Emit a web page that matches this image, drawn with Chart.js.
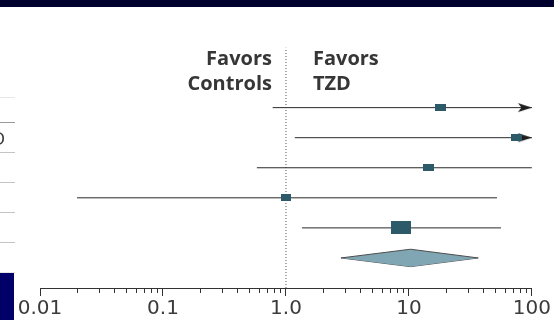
<!DOCTYPE html>
<html lang="en">
<head>
<meta charset="UTF-8">
<title>TZD forest plot</title>
<style>
  body { margin: 0; background: #fff; }
  #wrap { position: relative; width: 554px; height: 320px; overflow: hidden; background: #fff; }
  #chartBox { position: absolute; left: 0; top: 0; width: 554px; height: 320px; }
  .band { position: absolute; left: 0; top: 0; width: 554px; height: 7px; background: #00002e; }
  .block { position: absolute; left: 0; top: 273px; width: 14px; height: 47px; background: #000068; }
  .stub { position: absolute; left: 0; width: 15px; height: 1px; background: #c4c4c4; }
  .cut { position: absolute; left: -8px; top: 126px; font: 18px 'Open Sans', sans-serif; color: #333; }
</style>
</head>
<body>
<div id="wrap">
  <div id="chartBox"><canvas id="forest"></canvas></div>
  <div class="band"></div>
  <div class="stub" style="top:97px;background:#e6e6e6"></div>
  <div class="stub" style="top:122px;background:#9a9a9a"></div>
  <div class="stub" style="top:152px"></div>
  <div class="stub" style="top:182px"></div>
  <div class="stub" style="top:212px"></div>
  <div class="stub" style="top:242px"></div>
  <div class="stub" style="top:272px;background:#e6e6e6"></div>
  <div class="cut">D</div>
  <div class="block"></div>
</div>

<script src="https://cdn.jsdelivr.net/npm/chart.js"></script>
<script>
// odds ratios per study (top to bottom), with 95% CI
const oddsRatio = [18.2, 75, 14.4, 1.0, 8.7];
const ciLow = [0.78, 1.18, 0.58, 0.02, 1.35];
const ciHigh = [400, 1000, 100, 52, 56];
const weights = [12, 12, 12, 9, 40]; // study weight, %

// pooled estimate: [low, estimate, high]
const pooled = [2.8, 10.3, 36.6];

const tickValues = [0.01, 0.1, 1, 10, 100];
const tickLabels = ['0.01', '0.1', '1.0', '10', '100'];

const X_MIN = 0.01, X_MAX = 100;
const nRows = oddsRatio.length;
const rowY = i => nRows + 1 - i;   // study rows, pooled row sits at 1

// small canvases used as point styles
function boxImage(w) {
  const width = Math.round(3.2 * Math.sqrt(w));
  const height = Math.round(width * 0.66);
  const c = document.createElement('canvas');
  c.width = width; c.height = height;
  const g = c.getContext('2d');
  g.fillStyle = '#2c5a68';
  g.fillRect(0, 0, width, height);
  return c;
}
function arrowImage() {
  // tip sits in the middle of the canvas so the point lands on the tip
  const c = document.createElement('canvas');
  c.width = 30; c.height = 11;
  const g = c.getContext('2d');
  g.fillStyle = '#1e1e1e';
  g.beginPath();
  g.moveTo(15, 5.5);
  g.lineTo(1, 1);
  g.lineTo(4.5, 5.5);
  g.lineTo(1, 10);
  g.closePath();
  g.fill();
  return c;
}
const boxes = weights.map(boxImage);
const arrow = arrowImage();

// CI segments, broken with gaps
const ciData = [];
oddsRatio.forEach((v, i) => {
  ciData.push({x: ciLow[i], y: rowY(i)}, {x: ciHigh[i], y: rowY(i)}, {x: 1, y: null});
});
const pointData = oddsRatio.map((v, i) => ({x: v, y: rowY(i)}));
const arrowData = ciHigh
  .map((v, i) => ({x: Math.min(v, X_MAX), y: rowY(i), over: v > X_MAX}))
  .filter(p => p.over);

const dh = 0.29;
const diamondTop = [{x: pooled[0], y: 1}, {x: pooled[1], y: 1 + dh}, {x: pooled[2], y: 1}];
const diamondBottom = [{x: pooled[0], y: 1}, {x: pooled[1], y: 1 - dh}, {x: pooled[2], y: 1}];

const decor = {
  id: 'decor',
  afterDraw(chart) {
    const {ctx, chartArea} = chart;
    const x = chart.scales.x;
    const x1 = x.getPixelForValue(1);
    ctx.save();
    // minor log ticks
    ctx.strokeStyle = '#333';
    ctx.lineWidth = 1;
    ctx.beginPath();
    for (let d = -2; d < 2; d++) {
      for (let k = 2; k < 10; k++) {
        const px = Math.round(x.getPixelForValue(k * Math.pow(10, d))) + 0.5;
        ctx.moveTo(px, chartArea.bottom);
        ctx.lineTo(px, chartArea.bottom + 5);
      }
    }
    ctx.stroke();
    // favors headers
    ctx.font = "bold 20px 'Open Sans'";
    ctx.fillStyle = '#363636';
    ctx.textAlign = 'right';
    ctx.fillText('Favors', x1 - 14, 65);
    ctx.fillText('Controls', x1 - 14, 90);
    ctx.textAlign = 'left';
    ctx.fillText('Favors', x1 + 27, 65);
    ctx.fillText('TZD', x1 + 27, 90);
    ctx.restore();
  }
};

new Chart(document.getElementById('forest'), {
  type: 'scatter',
  data: {
    datasets: [
      {
        data: pointData,
        pointStyle: ctx => boxes[ctx.dataIndex],
        order: 1
      },
      {
        data: arrowData,
        pointStyle: arrow,
        clip: false,
        order: 2
      },
      {
        data: ciData,
        showLine: true,
        spanGaps: false,
        borderColor: '#2a2a2a',
        borderWidth: 1,
        pointRadius: 0,
        order: 3
      },
      {
        data: diamondTop,
        showLine: true,
        borderColor: '#4d4d4d',
        borderWidth: 1,
        backgroundColor: '#80a5b3',
        fill: '+1',
        pointRadius: 0,
        order: 4
      },
      {
        data: diamondBottom,
        showLine: true,
        borderColor: '#4d4d4d',
        borderWidth: 1,
        pointRadius: 0,
        order: 5
      },
      {
        data: [{x: 1, y: 0}, {x: 1, y: 8}],
        showLine: true,
        borderColor: '#555',
        borderWidth: 1,
        borderDash: [1, 2],
        pointRadius: 0,
        order: 6
      }
    ]
  },
  options: {
    responsive: true,
    maintainAspectRatio: false,
    animation: false,
    devicePixelRatio: 1,
    layout: {padding: {left: 40, right: 20, top: 47.5, bottom: -2}},
    plugins: {legend: {display: false}, tooltip: {enabled: false}},
    scales: {
      x: {
        type: 'logarithmic',
        min: X_MIN,
        max: X_MAX,
        border: {display: true, color: '#333', width: 1},
        grid: {drawOnChartArea: false, drawTicks: true, tickLength: 8, color: '#333'},
        afterBuildTicks: axis => { axis.ticks = tickValues.map(v => ({value: v})); },
        ticks: {
          autoSkip: false,
          maxRotation: 0,
          padding: 3,
          color: '#3b3b3b',
          font: {family: 'DejaVu Sans', size: 20, lineHeight: 1},
          callback: (v) => tickLabels[tickValues.indexOf(v)] ?? ''
        }
      },
      y: {
        type: 'linear',
        min: 0,
        max: 8,
        display: false
      }
    }
  },
  plugins: [decor]
});
</script>
</body>
</html>
